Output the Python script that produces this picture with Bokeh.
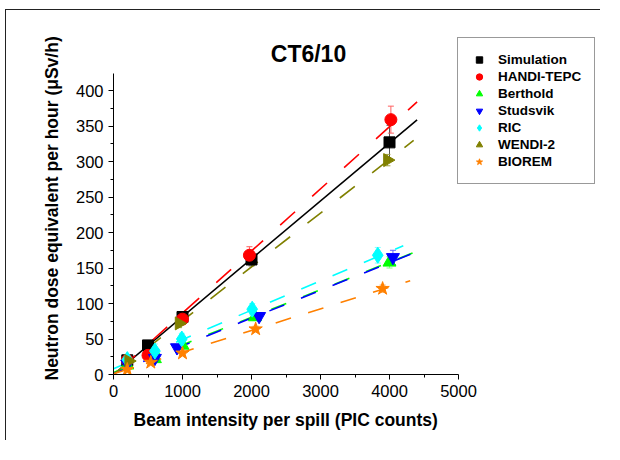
import numpy as np
from bokeh.plotting import figure
from bokeh.models import (Range1d, FixedTicker, Legend, LegendItem, Label, Title,
                          ColumnDataSource, Whisker, TeeHead)
from bokeh.embed import file_html
from bokeh.resources import INLINE

# ---- data ----
sim_x = [200, 500, 1000, 2000, 4000]
sim_y = [20, 41, 81, 162, 327]
sim_e = [2, 3, 5, 9, 24]

handi_x = [200, 500, 1000, 1970, 4020]
handi_y = [20, 27, 78, 168, 359]
handi_e = [3, 4, 6, 12, 19]

berth_x = [200, 600, 1000, 2050, 4000]
berth_y = [13, 22, 41, 81, 158]
berth_e = [2, 3, 4, 5, 8]

studs_x = [200, 600, 920, 2110, 4050]
studs_y = [15, 23, 38, 82, 165]
studs_e = [2, 3, 4, 5, 10]

ric_x = [200, 600, 990, 2010, 3830]
ric_y = [21, 33, 50, 92, 168]
ric_e = [5, 10, 8, 8, 11]

wendi_x = [220, 950, 3970]
wendi_y = [19, 72, 302]
wendi_e = [4, 6, 8]

biorem_x = [200, 540, 1000, 2060, 3900]
biorem_y = [7, 17, 30, 64, 121]
biorem_e = [2, 3, 3, 4, 5]

# linear fits: (slope, intercept, x_start, x_end)
fit_sim = (0.0815, 0.0, 0, 4400)
fit_handi = (0.0875, -1.0, 100, 4400)
fit_berth = (0.0388, 3.0, 0, 4450)
fit_studs = (0.0390, 1.5, 0, 4450)
fit_ric = (0.0413, 8.0, 0, 4200)
fit_wendi = (0.0758, 0.0, 0, 4350)
fit_biorem = (0.0305, 1.0, 0, 4300)

x_ticks = [0, 1000, 2000, 3000, 4000, 5000]
y_ticks = [0, 50, 100, 150, 200, 250, 300, 350, 400]
X_AXIS_MAX = 5000
Y_AXIS_MAX = 424

TITLE = "CT6/10"
X_LABEL = "Beam intensity per spill (PIC counts)"
Y_LABEL = "Neutron dose equivalent per hour (μSv/h)"

FONT = "Liberation Sans"

# layout (pixels)
AX_W, AX_H = 345, 301          # axis extent in pixels
FR_W, FR_H = 487, 354          # drawing frame (includes title/legend area)
x_end = X_AXIS_MAX * FR_W / AX_W
y_end = Y_AXIS_MAX * FR_H / AX_H

p = figure(frame_width=FR_W, frame_height=FR_H, output_backend="svg",
           toolbar_location=None, x_range=Range1d(0, x_end), y_range=Range1d(0, y_end),
           min_border_left=107, min_border_top=10, min_border_right=0,
           min_border_bottom=66)
p.styles = {"border-top": "1px solid #222", "border-left": "1px solid #222",
            "margin-left": "5px", "margin-top": "9px"}
p.grid.visible = False
p.outline_line_color = None

for ax in (p.xaxis[0], p.yaxis[0]):
    ax.major_tick_out = 5
    ax.major_tick_in = 0
    ax.minor_tick_out = 3
    ax.minor_tick_in = 0
    ax.axis_line_color = "black"
    ax.major_tick_line_color = "black"
    ax.minor_tick_line_color = "black"
    ax.major_label_text_font = FONT
    ax.major_label_text_font_size = "16.5px"
    ax.major_label_text_color = "black"
    ax.major_label_standoff = 5

p.xaxis.bounds = (0, X_AXIS_MAX)
p.yaxis.bounds = (0, Y_AXIS_MAX)
p.xaxis.ticker = FixedTicker(ticks=x_ticks, minor_ticks=[v + 500 for v in x_ticks[:-1]])
p.yaxis.ticker = FixedTicker(ticks=y_ticks, minor_ticks=[v + 25 for v in y_ticks[:-1]])

# axis titles, aligned to the axis extent rather than the larger frame
xt = Title(text=X_LABEL, align="left", offset=20, text_font=FONT,
           text_font_size="17.5px", text_font_style="bold", text_color="black")
yt = Title(text=Y_LABEL, align="left", offset=-6, text_font=FONT,
           text_font_size="17.5px", text_font_style="bold", text_color="black")
if "standoff" in Title.properties():
    xt.standoff = 16
    yt.standoff = 22
p.add_layout(xt, "below")
p.add_layout(yt, "left")

series = [
    ("Simulation", sim_x, sim_y, sim_e, fit_sim, "black", "#555555", "square", 11, 0, "solid"),
    ("HANDI-TEPC", handi_x, handi_y, handi_e, fit_handi, "#ff0000", "#ff6060", "circle", 12, 0, "20 23"),
    ("Berthold", berth_x, berth_y, berth_e, fit_berth, "#00ff00", "#80ff80", "triangle", 13, 0, "16 18"),
    ("Studsvik", studs_x, studs_y, studs_e, fit_studs, "#0000ff", "#6060ff", "inverted_triangle", 13, 0, "16 18"),
    ("RIC", ric_x, ric_y, ric_e, fit_ric, "#00ffff", "#80ffff", "diamond", 16, 0, "16 18"),
    ("WENDI-2", wendi_x, wendi_y, wendi_e, fit_wendi, "#808000", "#a0a040", "triangle", 13, -np.pi / 2, "19 22"),
    ("BIOREM", biorem_x, biorem_y, biorem_e, fit_biorem, "#ff8000", "#ffa040", "star", 14, 0, "16 18"),
]

# fit lines first
for name, xs, ys, es, fit, col, ecol, mk, sz, ang, dash in series:
    m, b, x0, x1 = fit
    xx = [x0, x1]
    yy = [m * x0 + b, m * x1 + b]
    p.line(xx, yy, line_color=col, line_width=1.6, line_dash=dash,
           line_dash_offset=2 if name == "Studsvik" else 0)

items = []
for name, xs, ys, es, fit, col, ecol, mk, sz, ang, dash in series:
    src = ColumnDataSource(dict(x=xs, y=ys,
                                lo=[a - e for a, e in zip(ys, es)],
                                hi=[a + e for a, e in zip(ys, es)]))
    w = Whisker(source=src, base="x", lower="lo", upper="hi", dimension="height",
                line_color=ecol, line_width=1,
                upper_head=TeeHead(size=6, line_color=ecol, line_width=1),
                lower_head=TeeHead(size=6, line_color=ecol, line_width=1))
    p.add_layout(w)
    r = p.scatter("x", "y", source=src, marker=mk, size=sz, angle=ang,
                  fill_color=col, line_color=col)
    items.append(LegendItem(label=name, renderers=[r]))

legend = Legend(items=items, location=(344, 190), orientation="vertical",
                border_line_color="#333333", border_line_width=1,
                background_fill_color="white", background_fill_alpha=1,
                padding=13, spacing=0, margin=0,
                glyph_width=16, glyph_height=17, label_height=17,
                label_standoff=11,
                label_text_font=FONT, label_text_font_size="13.5px",
                label_text_font_style="bold", label_text_color="black")
p.add_layout(legend)

title = Label(x=2826, y=452, text=TITLE, text_font=FONT, text_font_size="23px",
              text_font_style="bold", text_align="center", text_baseline="middle",
              text_color="black")
p.add_layout(title)

open("out.html", "w").write(file_html(p, INLINE))
